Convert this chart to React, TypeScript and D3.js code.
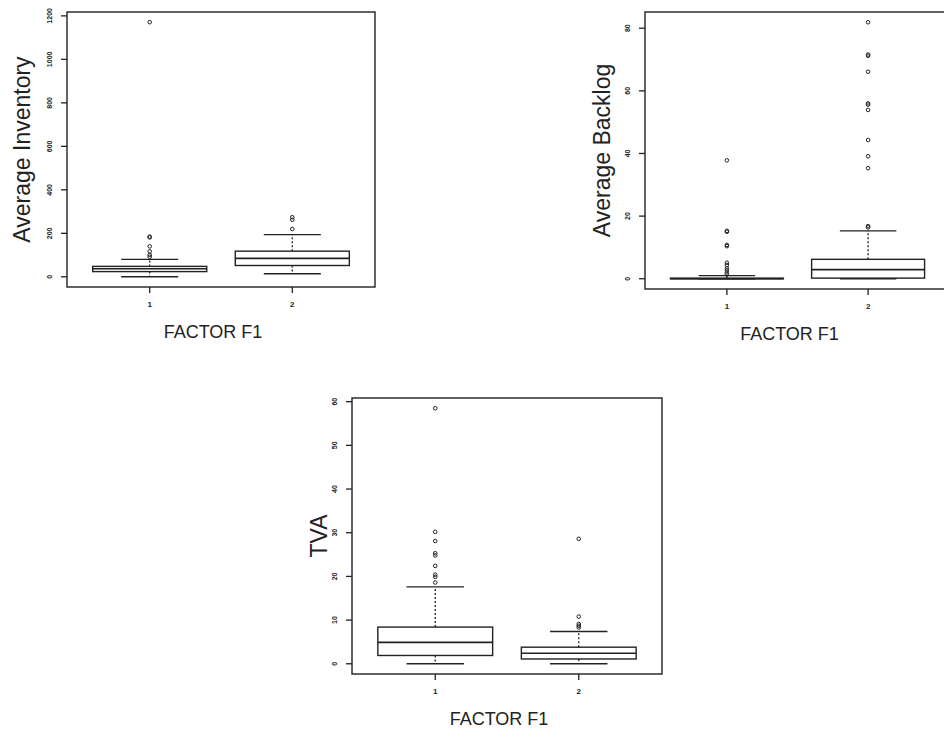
import * as d3 from "d3";

// five-number summaries per group: lower whisker, q1, median, q3, upper whisker
const groups = ["1", "2"];

const invStats = [[0, 24, 37, 48, 80], [14, 52, 85, 118, 194]];
const invOutliers = [[1171, 185, 181, 140, 117, 101, 92], [274, 262, 220]];
const invTicks = [0, 200, 400, 600, 800, 1000, 1200];

const backStats = [[0, 0, 0, 0.2, 1.0], [0, 0.2, 2.9, 6.2, 15.3]];
const backOutliers = [
  [37.8, 15.3, 15.0, 10.8, 10.4, 5.1, 4.4, 3.3, 2.7, 2.0, 1.4],
  [81.9, 71.6, 71.2, 66.1, 56, 55.6, 53.9, 44.3, 39.1, 35.3, 16.8, 16.4],
];
const backTicks = [0, 20, 40, 60, 80];

const tvaStats = [[0, 1.9, 4.9, 8.4, 17.6], [0, 1.1, 2.4, 3.8, 7.4]];
const tvaOutliers = [[58.5, 30.2, 28.1, 25.3, 24.8, 22.4, 20.4, 19.9, 18.6], [28.6, 10.8, 9.1, 8.7, 8.3]];
const tvaTicks = [0, 10, 20, 30, 40, 50, 60];

const xLabel = "FACTOR F1";
const ink = "#222";
const font = "'Liberation Sans', Arial, sans-serif";

type PanelProps = {
  left: number; top: number; right: number; bottom: number; titleGap: number;
  yLabel: string; stats: number[][]; outliers: number[][]; ticks: number[];
};

function Panel({ left, top, right, bottom, titleGap, yLabel, stats, outliers, ticks }: PanelProps) {
  // R style: axis range is the data range padded by 4% on each side
  const all = stats.flat().concat(outliers.flat());
  const [lo, hi] = d3.extent(all) as [number, number];
  const pad = (hi - lo) * 0.04;
  const y = d3.scaleLinear().domain([lo - pad, hi + pad]).range([bottom, top]);
  const x = d3.scaleLinear().domain([0.42, 2.58]).range([left, right]);
  const half = x(1.4) - x(1);
  const cap = half / 2;

  return (
    <g>
      <rect x={left} y={top} width={right - left} height={bottom - top}
        fill="none" stroke={ink} strokeWidth={1.4} />
      {groups.map((g, i) => {
        const cx = x(i + 1);
        const [wl, q1, md, q3, wh] = stats[i];
        return (
          <g key={g}>
            <line x1={cx} x2={cx} y1={y(q3)} y2={y(wh)} stroke={ink} strokeWidth={1.3} strokeDasharray="2,2" />
            <line x1={cx} x2={cx} y1={y(q1)} y2={y(wl)} stroke={ink} strokeWidth={1.3} strokeDasharray="2,2" />
            <line x1={cx - cap} x2={cx + cap} y1={y(wh)} y2={y(wh)} stroke={ink} strokeWidth={1.4} />
            <line x1={cx - cap} x2={cx + cap} y1={y(wl)} y2={y(wl)} stroke={ink} strokeWidth={1.4} />
            <rect x={cx - half} y={y(q3)} width={2 * half} height={Math.max(y(q1) - y(q3), 0.1)}
              fill="white" stroke={ink} strokeWidth={1.4} />
            <line x1={cx - half} x2={cx + half} y1={y(md)} y2={y(md)} stroke={ink} strokeWidth={1.6} />
            {outliers[i].map((v, j) => (
              <circle key={j} cx={cx} cy={y(v)} r={1.8} fill="none" stroke={ink} strokeWidth={1} />
            ))}
            <line x1={cx} x2={cx} y1={bottom} y2={bottom + 6} stroke={ink} strokeWidth={1.3} />
            <text x={cx} y={bottom + 20} textAnchor="middle" fontSize={8} fontWeight="bold"
              fontFamily={font} fill={ink}>{g}</text>
          </g>
        );
      })}
      {ticks.map((t) => (
        <g key={t}>
          <line x1={left - 6} x2={left} y1={y(t)} y2={y(t)} stroke={ink} strokeWidth={1.3} />
          <text transform={`translate(${left - 15},${y(t)}) rotate(-90)`} textAnchor="middle"
            fontSize={7} fontWeight="bold" fontFamily={font} fill={ink}>{t}</text>
        </g>
      ))}
      <text transform={`translate(${left - titleGap},${(top + bottom) / 2}) rotate(-90)`} textAnchor="middle"
        fontSize={23} fontFamily={font} fill={ink}>{yLabel}</text>
      <text x={(left + right) / 2 - 8} y={bottom + 51} textAnchor="middle" fontSize={18}
        fontFamily={font} fill={ink}>{xLabel}</text>
    </g>
  );
}

export default function App() {
  return (
    <svg width={944} height={733} style={{ position: "absolute", left: 0, top: 0, display: "block", background: "white" }}>
      <rect width={944} height={733} fill="white" />
      <Panel left={67} top={12} right={375} bottom={287} titleGap={37} yLabel="Average Inventory"
        stats={invStats} outliers={invOutliers} ticks={invTicks} />
      <Panel left={645} top={12} right={950} bottom={289} titleGap={35} yLabel="Average Backlog"
        stats={backStats} outliers={backOutliers} ticks={backTicks} />
      <Panel left={352} top={398} right={662} bottom={674} titleGap={25} yLabel="TVA"
        stats={tvaStats} outliers={tvaOutliers} ticks={tvaTicks} />
    </svg>
  );
}
